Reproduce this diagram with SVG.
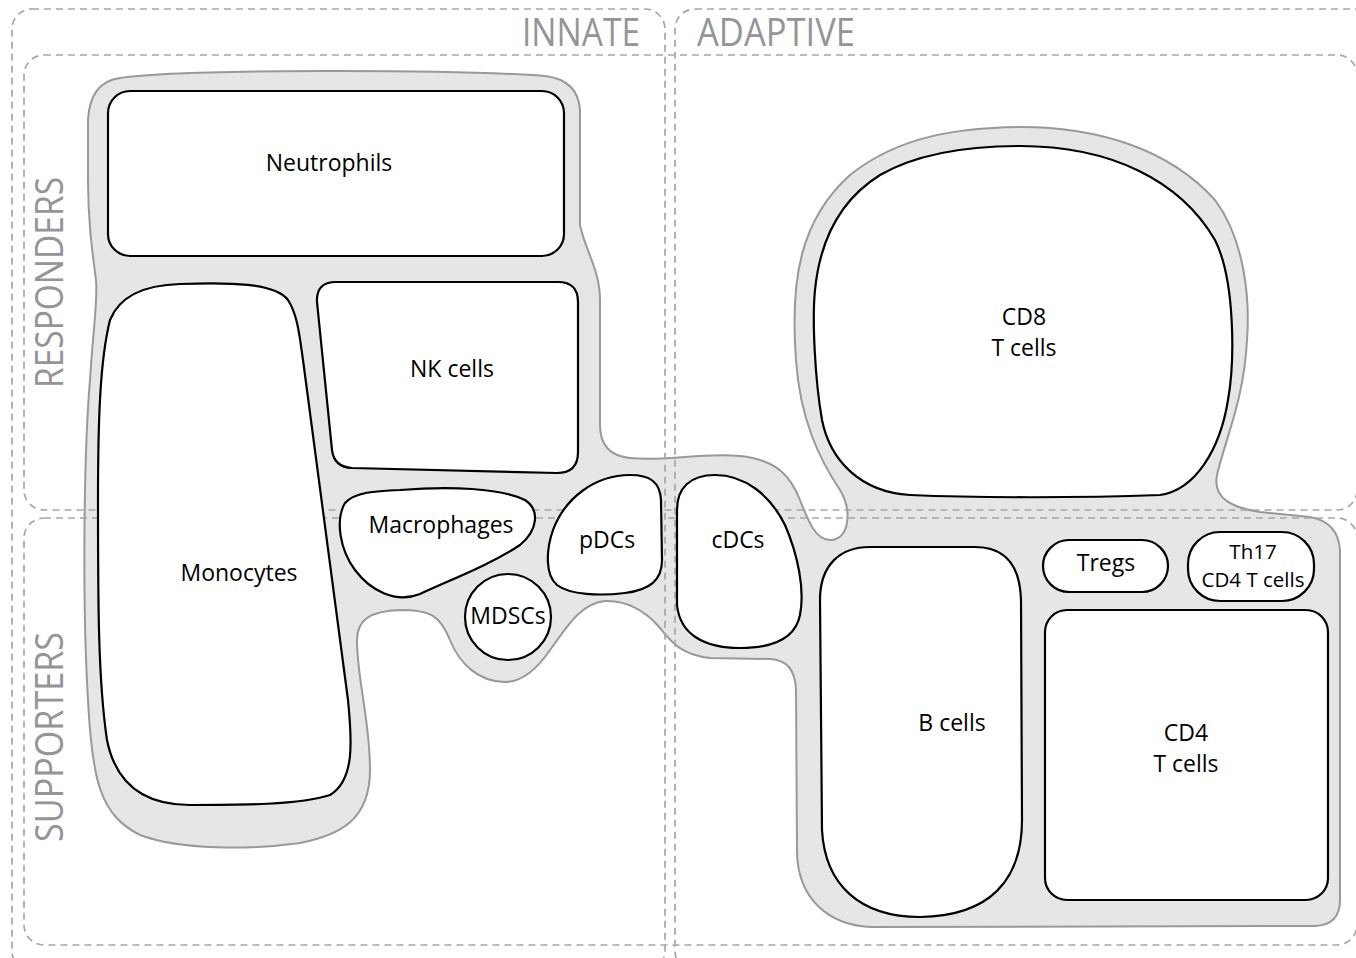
<svg xmlns="http://www.w3.org/2000/svg" width="1356" height="958" viewBox="0 0 1356 958">
<style>
.box{fill:none;stroke:#a6a6a6;stroke-width:1.7;stroke-dasharray:7 5}
.blob{fill:#e6e6e6;stroke:#999999;stroke-width:2}
.cell{fill:#ffffff;stroke:#000000;stroke-width:2.2}
.lbl{font-family:"Open Sans","Liberation Sans",sans-serif;font-size:23px;fill:#000000;text-anchor:middle}
.sm{font-size:20.5px}
.sec{font-family:"Open Sans","Liberation Sans",sans-serif;font-weight:400;font-size:38px;fill:#939598}
</style>
<rect width="1356" height="958" fill="#ffffff"/>
<g id="blob">
<path class="blob" d="M 120 78 C 180 69, 450 69, 545 76 Q 578 80 580 110 L 580 225 C 585 250, 600 270, 600 300 L 600 425 Q 600 455 630 458 C 670 462, 700 452, 740 456 C 780 460, 792 480, 800 500 C 808 520, 815 540, 830 540 C 850 540, 852 510, 840 490 C 820 460, 800 420, 796 360 C 790 280, 800 220, 850 175 C 900 135, 960 128, 1020 127 C 1100 127, 1170 150, 1215 200 C 1245 240, 1250 300, 1247 340 C 1244 400, 1225 440, 1217 475 C 1212 500, 1235 508, 1260 512 L 1310 517 Q 1338 522 1340 550 L 1340 900 Q 1340 925 1315 926 L 870 927 C 830 925, 797 900, 797 850 L 796 690 Q 795 660 770 659 L 710 658 C 680 655, 670 640, 660 628 C 645 610, 625 600, 605 601 C 580 603, 565 630, 550 650 C 535 672, 520 682, 505 682 C 480 682, 460 665, 450 640 C 440 615, 430 610, 400 610 C 370 611, 357 620, 357 640 C 357 680, 370 720, 370 770 C 370 820, 340 835, 300 843 C 250 850, 180 850, 140 835 C 100 815, 92 780, 88 700 C 82 600, 84 450, 90 380 C 93 330, 98 300, 96 280 C 92 250, 88 220, 88 180 L 88 120 Q 90 82 120 78 Z"/>
</g>
<g id="sections">
<rect class="box" x="12" y="9" width="653" height="962" rx="20"/>
<rect class="box" x="675" y="9" width="700" height="962" rx="20"/>
<rect class="box" x="24" y="55" width="1333" height="455" rx="20"/>
<rect class="box" x="24" y="518" width="1333" height="427" rx="20"/>
<text class="sec" x="640" y="46" text-anchor="end" textLength="118" lengthAdjust="spacingAndGlyphs">INNATE</text>
<text class="sec" x="697" y="46" textLength="158" lengthAdjust="spacingAndGlyphs">ADAPTIVE</text>
<text class="sec" transform="translate(63,388) rotate(-90)" textLength="211" lengthAdjust="spacingAndGlyphs">RESPONDERS</text>
<text class="sec" transform="translate(63,842) rotate(-90)" textLength="210" lengthAdjust="spacingAndGlyphs">SUPPORTERS</text>
</g>
<g id="neutrophils">
<rect class="cell" x="108" y="91" width="456" height="165" rx="22"/>
<text class="lbl" x="329" y="171">Neutrophils</text>
</g>
<g id="nk-cells">
<path class="cell" d="M 336 282 L 558 282 Q 578 282 578 302 L 578 452 Q 578 473 557 473 L 352 468 Q 334 467 332 450 L 317 302 Q 316 282 336 282 Z"/>
<text class="lbl" x="452" y="377">NK cells</text>
</g>
<g id="monocytes">
<path class="cell" d="M 180 284 C 230 282, 275 283, 288 300 C 298 315, 300 340, 303 360 L 348 700 C 352 740, 355 780, 330 795 C 300 805, 240 805, 190 805 C 140 805, 115 780, 107 740 C 98 680, 98 600, 98 500 C 98 420, 100 360, 110 320 C 120 295, 145 285, 180 284 Z"/>
<text class="lbl" x="239" y="581">Monocytes</text>
</g>
<g id="macrophages">
<path class="cell" d="M 400 490 C 450 486, 500 488, 525 500 C 540 510, 538 530, 520 545 C 490 565, 450 580, 420 594 C 395 604, 370 590, 355 570 C 340 550, 335 520, 345 503 C 355 492, 375 491, 400 490 Z"/>
<text class="lbl" x="441" y="533">Macrophages</text>
</g>
<g id="mdscs">
<circle class="cell" cx="508" cy="617" r="43"/>
<text class="lbl" x="508" y="624">MDSCs</text>
</g>
<g id="pdcs">
<path class="cell" d="M 630 475 C 650 475, 660 482, 661 500 L 662 560 C 662 580, 650 590, 625 593 C 600 596, 570 595, 557 585 C 545 575, 546 550, 553 530 C 565 498, 595 475, 630 475 Z"/>
<text class="lbl" x="607" y="548">pDCs</text>
</g>
<g id="cdcs">
<path class="cell" d="M 715 475 C 745 475, 770 495, 785 525 C 798 555, 805 590, 800 615 C 795 640, 770 648, 740 648 C 705 648, 680 635, 677 605 L 677 510 C 677 488, 690 475, 715 475 Z"/>
<text class="lbl" x="738" y="548">cDCs</text>
</g>
<g id="cd8-t-cells">
<path class="cell" d="M 1020 146 C 1110 146, 1180 180, 1215 240 C 1235 280, 1235 360, 1228 400 C 1220 450, 1195 490, 1160 495 C 1080 498, 980 498, 910 495 C 860 492, 830 460, 822 420 C 815 380, 812 320, 815 290 C 820 240, 840 200, 880 175 C 920 152, 970 146, 1020 146 Z"/>
<text class="lbl" x="1024" y="325">CD8</text>
<text class="lbl" x="1024" y="356">T cells</text>
</g>
<g id="tregs">
<rect class="cell" x="1043" y="540" width="125" height="52" rx="26"/>
<text class="lbl" x="1106" y="571">Tregs</text>
</g>
<g id="th17">
<rect class="cell" x="1188" y="532" width="126" height="69" rx="32"/>
<text class="lbl sm" x="1253" y="559">Th17</text>
<text class="lbl sm" x="1253" y="587">CD4 T cells</text>
</g>
<g id="b-cells">
<path class="cell" d="M 870 547 L 975 547 C 1005 547, 1020 565, 1021 600 L 1022 820 C 1022 880, 990 916, 920 917 C 860 917, 825 885, 822 830 L 820 600 C 820 565, 840 547, 870 547 Z"/>
<text class="lbl" x="952" y="731">B cells</text>
</g>
<g id="cd4-t-cells">
<rect class="cell" x="1045" y="610" width="283" height="290" rx="22"/>
<text class="lbl" x="1186" y="741">CD4</text>
<text class="lbl" x="1186" y="772">T cells</text>
</g>
<g id="connectors"/>
</svg>
